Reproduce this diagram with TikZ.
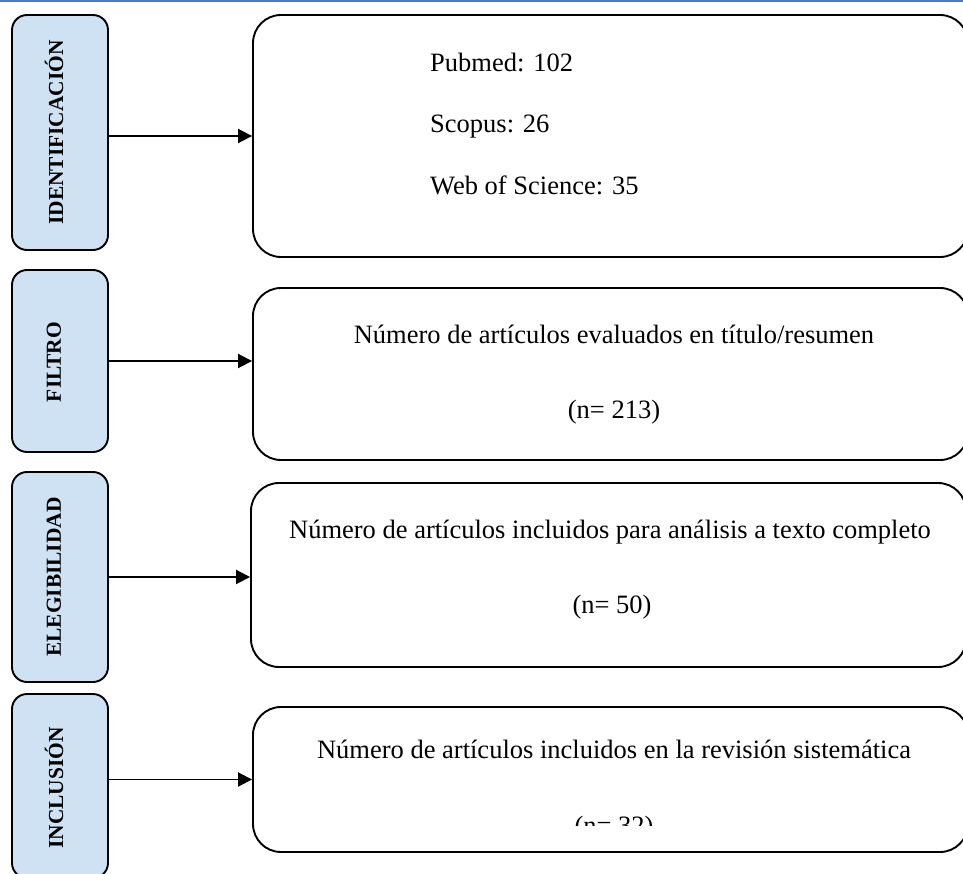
\documentclass[tikz,border=0pt]{standalone}
\usepackage{fontspec}
\setmainfont{Liberation Serif}
\usetikzlibrary{arrows.meta}
\definecolor{lblue}{RGB}{207,226,243}
\definecolor{topblue}{RGB}{74,123,208}
\tikzset{
  lbox/.style={draw=black, line width=1.9pt, fill=lblue, rounded corners=15pt, minimum width=96pt, inner sep=0pt},
  rbox/.style={draw=black, line width=1.9pt, fill=white, rounded corners=28pt, minimum width=715pt, inner sep=0pt},
  ltxt/.style={rotate=90, font=\bfseries\fontsize{21.4}{24}\selectfont, inner sep=0pt},
  rtxt/.style={font=\fontsize{26.5}{30}\selectfont, inner sep=0pt},
  arr/.style={line width=1.9pt, -{Triangle[length=14pt,width=14pt]}}
}
\begin{document}
\begin{tikzpicture}[x=1pt,y=-1pt]
\useasboundingbox (0,0) rectangle (963,874);
\clip (0,0) rectangle (963,874);
\fill[white] (0,0) rectangle (963,874);
\draw[topblue, line width=1.6pt] (0,0.8) -- (963,0.8);

% left boxes
\node[lbox, minimum height=235pt] (L1) at (60,132.5) {};
\node[lbox, minimum height=182pt] (L2) at (60,361) {};
\node[lbox, minimum height=210pt] (L3) at (60,577) {};
\node[lbox, minimum height=184pt] (L4) at (60,786) {};
\node[ltxt] (T1) at (54,132.5) {IDENTIFICACIÓN};
\node[ltxt] (T2) at (54,362) {FILTRO};
\node[ltxt] (T3) at (54,577) {ELEGIBILIDAD};
\node[ltxt] (T4) at (54,788) {INCLUSIÓN};

% right boxes
\node[rbox, minimum height=242pt] (R1) at (610.5,136) {};
\node[rbox, minimum height=172pt] (R2) at (610.5,374) {};
\node[rbox, minimum height=184pt] (R3) at (608.5,575) {};
\node[rbox, minimum height=145pt] (R4) at (610.5,779.5) {};

% texts
\node[rtxt, anchor=base west] (P1) at (430,72) {Pubmed: 102};
\node[rtxt, anchor=base west] (P2) at (430,133) {Scopus: 26};
\node[rtxt, anchor=base west] (P3) at (430,195) {Web of Science: 35};
\node[rtxt, anchor=base] (F1) at (614,343) {Número de artículos evaluados en título/resumen};
\node[rtxt, anchor=base] (F2) at (614,418) {(n= 213)};
\node[rtxt, anchor=base] (E1) at (610,538) {Número de artículos incluidos para análisis a texto completo};
\node[rtxt, anchor=base] (E2) at (612,613) {(n= 50)};
\node[rtxt, anchor=base] (I1) at (614,758) {Número de artículos incluidos en la revisión sistemática};
\begin{scope}
\clip (250,700) rectangle (963,825);
\node[rtxt, anchor=base] (I2) at (614,834) {(n= 32)};
\end{scope}

% arrows
\draw[arr] (L1.east |- R1.west) -- (R1.west);
\draw[arr] (L2.east) -- (L2.east -| R2.west);
\draw[arr] (L3.east) -- (L3.east -| R3.west);
\draw[arr] (L4.east |- R4.west) -- (R4.west);
\end{tikzpicture}
\end{document}
